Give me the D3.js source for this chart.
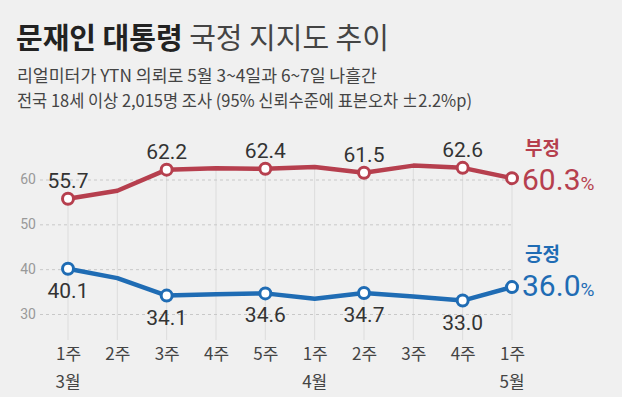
<!DOCTYPE html>
<html>
<head>
<meta charset="utf-8">
<script src="https://cdn.jsdelivr.net/npm/d3@7"></script>
<style>
  body { margin: 0; background: #f0f0f0; }
  svg { display: block; font-family: "Noto Sans CJK KR", "Noto Sans", sans-serif; }
</style>
</head>
<body>
<svg id="chart" width="622" height="397"></svg>
<script>
// data
const weeks = ['1주', '2주', '3주', '4주', '5주', '1주', '2주', '3주', '4주', '1주'];
const months = ['3월', '', '', '', '', '4월', '', '', '', '5월'];
const negative = [55.7, 57.5, 62.2, 62.5, 62.4, 62.8, 61.5, 63.1, 62.6, 60.3];
const positive = [40.1, 38.0, 34.1, 34.4, 34.6, 33.4, 34.7, 33.9, 33.0, 36.0];
const labeled = [0, 2, 4, 6, 8, 9];
const yTicks = [30, 40, 50, 60];

const red = '#b63f4e', blue = '#1f6cb4';
const numFont = '"Roboto", sans-serif';

const svg = d3.select('#chart');

const x = d3.scalePoint()
  .domain(d3.range(weeks.length))
  .range([68, 512]);

const y = d3.scaleLinear()
  .domain([30, 60])
  .range([314, 179.5]);

// title
const title = svg.append('text')
  .attr('x', 16).attr('y', 49)
  .attr('font-size', 29).attr('fill', '#222');
title.append('tspan').attr('font-weight', 'bold').text('문재인 대통령');
title.append('tspan').attr('fill', '#444').text(' 국정 지지도 추이');

svg.append('text')
  .attr('x', 17).attr('y', 82)
  .attr('font-size', 17).attr('fill', '#444')
  .attr('textLength', 360).attr('lengthAdjust', 'spacingAndGlyphs')
  .text('리얼미터가 YTN 의뢰로 5월 3~4일과 6~7일 나흘간');
svg.append('text')
  .attr('x', 17).attr('y', 107)
  .attr('font-size', 17).attr('fill', '#444')
  .attr('textLength', 455).attr('lengthAdjust', 'spacingAndGlyphs')
  .text('전국 18세 이상 2,015명 조사 (95% 신뢰수준에 표본오차 ±2.2%p)');

// vertical grid, from red line down
svg.append('g')
  .selectAll('line')
  .data(negative)
  .join('line')
  .attr('x1', (d, i) => x(i)).attr('x2', (d, i) => x(i))
  .attr('y1', d => y(d)).attr('y2', 340)
  .attr('stroke', '#dcdcdc').attr('stroke-width', 1);

// y axis with dashed grid
const yAxis = svg.append('g')
  .attr('transform', 'translate(40,0)')
  .call(d3.axisLeft(y).tickValues(yTicks).tickSize(-(512 - 40)).tickPadding(4));
yAxis.select('.domain').remove();
yAxis.selectAll('line').attr('stroke', '#c8c8c8').attr('stroke-dasharray', '3,3');
yAxis.selectAll('text').attr('font-size', 14).attr('fill', '#999').attr('font-family', numFont);

// x axis labels
const xAxis = svg.append('g')
  .attr('transform', 'translate(0,344)')
  .call(d3.axisBottom(x).tickFormat(i => weeks[i]).tickSize(0).tickPadding(4));
xAxis.select('.domain').remove();
xAxis.selectAll('text').attr('font-size', 17).attr('fill', '#444').attr('font-family', '"Noto Sans CJK KR", sans-serif');

svg.append('g')
  .selectAll('text')
  .data(months)
  .join('text')
  .attr('x', (d, i) => x(i)).attr('y', 388)
  .attr('text-anchor', 'middle')
  .attr('font-size', 17).attr('fill', '#444')
  .text(d => d);

// lines
const line = d3.line().x((d, i) => x(i)).y(d => y(d));

function drawSeries(values, color, above) {
  svg.append('path')
    .datum(values)
    .attr('d', line)
    .attr('fill', 'none')
    .attr('stroke', color).attr('stroke-width', 4.5)
    .attr('stroke-linejoin', 'round');
  svg.append('g')
    .selectAll('circle')
    .data(labeled)
    .join('circle')
    .attr('cx', i => x(i)).attr('cy', i => y(values[i]))
    .attr('r', 5.5)
    .attr('fill', '#fff').attr('stroke', color).attr('stroke-width', 3);
  svg.append('g')
    .selectAll('text')
    .data(labeled.slice(0, -1))
    .join('text')
    .attr('x', i => x(i))
    .attr('y', i => y(values[i]) + (above ? -11 : 29))
    .attr('text-anchor', 'middle')
    .attr('font-size', 21).attr('fill', '#333')
    .attr('font-family', numFont)
    .text(i => values[i].toFixed(1));
}

drawSeries(negative, red, true);
drawSeries(positive, blue, false);

// end labels
function endLabel(name, value, color, yName, yVal) {
  svg.append('text')
    .attr('x', 525).attr('y', yName)
    .attr('font-size', 19).attr('font-weight', 'bold').attr('fill', color)
    .text(name);
  const t = svg.append('text')
    .attr('x', 522).attr('y', yVal)
    .attr('fill', color).attr('font-family', numFont);
  t.append('tspan').attr('font-size', 30).text(value.toFixed(1));
  t.append('tspan').attr('font-size', 19).text('%');
}
endLabel('부정', negative[negative.length - 1], red, 155, 190);
endLabel('긍정', positive[positive.length - 1], blue, 261, 296);
</script>
</body>
</html>
